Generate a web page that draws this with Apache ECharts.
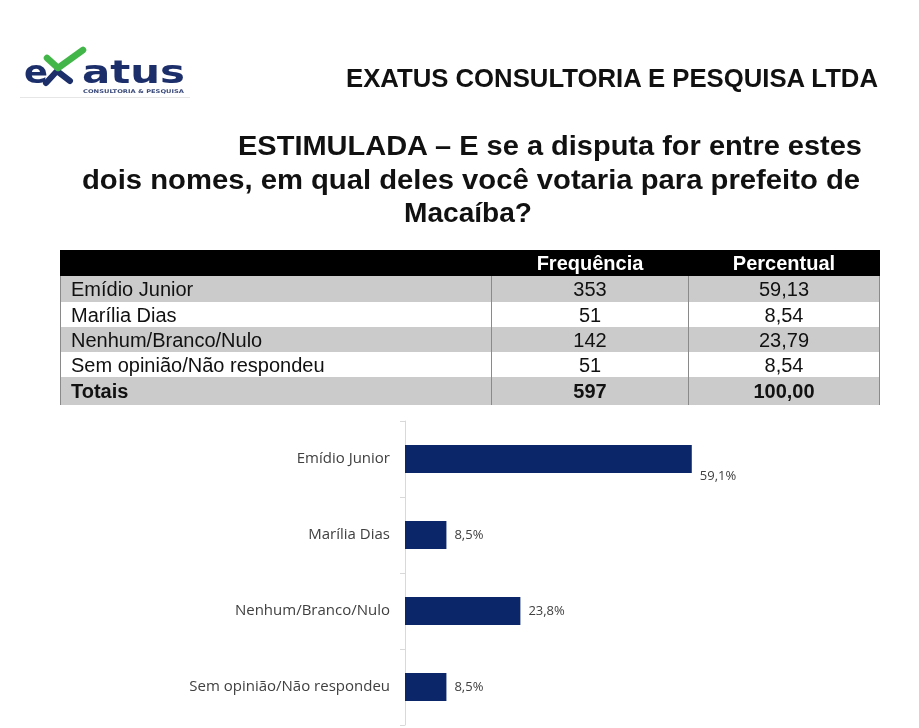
<!DOCTYPE html>
<html>
<head>
<meta charset="utf-8">
<script src="https://cdn.jsdelivr.net/npm/echarts@6/dist/echarts.min.js"></script>
<style>
  body { margin: 0; background: #fff; }
  #page { position: relative; width: 919px; height: 728px; overflow: hidden; background: #fff; }
  #main { position: absolute; left: 0; top: 0; width: 919px; height: 728px; }
  #top { position: absolute; left: 0; top: 0; }
  #tabela { position: absolute; left: 60px; top: 250px; border-collapse: collapse; table-layout: fixed;
            font-family: "Liberation Sans", Arial, sans-serif; font-size: 20px; color: #111; }
  #tabela td { padding: 0; border-left: 1px solid #8a8a8a; border-right: 1px solid #8a8a8a; line-height: 1; }
  #tabela td.c0 { padding-left: 10px; text-align: left; }
  #tabela td.c1, #tabela td.c2 { text-align: center; }
  #tabela tr.cinza td { background: #cbcbcb; }
  #tabela tr.branco td { background: #fff; }
  #tabela tr.cab td { background: #000; color: #fff; font-weight: bold; border-color: #000; }
  #tabela tr.tot td { font-weight: bold; }
</style>
</head>
<body>
<div id="page">
  <div id="main"></div>
  <svg id="top" width="919" height="240">
    <!-- logo -->
    <text x="24" y="83" font-family="DejaVu Sans" font-weight="bold" font-size="32" fill="#1d2f6b" textLength="24" lengthAdjust="spacingAndGlyphs">e</text>
    <path d="M46,83 L57,71 L70,81" stroke="#1d2f6b" stroke-width="6" fill="none" stroke-linecap="round" stroke-linejoin="round"/>
    <path d="M47,58 L58,68 L83,50" stroke="#43b649" stroke-width="6.5" fill="none" stroke-linecap="round" stroke-linejoin="round"/>
    <text x="82" y="83" font-family="DejaVu Sans" font-weight="bold" font-size="32" fill="#1d2f6b" textLength="103" lengthAdjust="spacingAndGlyphs">atus</text>
    <text x="83" y="93" font-family="DejaVu Sans" font-weight="bold" font-size="5" fill="#3a4a7a" textLength="101" lengthAdjust="spacingAndGlyphs">CONSULTORIA &amp; PESQUISA</text>
    <line x1="20" y1="97.5" x2="190" y2="97.5" stroke="#e6e6e6" stroke-width="1"/>
    <!-- cabeçalho -->
    <text x="346" y="87" font-family="Liberation Sans, Arial" font-weight="bold" font-size="26" fill="#111" textLength="532" lengthAdjust="spacingAndGlyphs">EXATUS CONSULTORIA E PESQUISA LTDA</text>
    <!-- título -->
    <text id="t1" x="238" y="155" font-family="Liberation Sans Narrow, Liberation Sans, Arial" font-weight="bold" font-size="28" fill="#111" textLength="624" lengthAdjust="spacingAndGlyphs"></text>
    <text id="t2" x="82" y="189" font-family="Liberation Sans Narrow, Liberation Sans, Arial" font-weight="bold" font-size="28" fill="#111" textLength="778" lengthAdjust="spacingAndGlyphs"></text>
    <text id="t3" x="404" y="222" font-family="Liberation Sans Narrow, Liberation Sans, Arial" font-weight="bold" font-size="28" fill="#111" textLength="128" lengthAdjust="spacingAndGlyphs"></text>
  </svg>
  <table id="tabela"></table>
</div>
<script type="text/javascript">
    // dados da pesquisa
    var titulo = ['ESTIMULADA – E se a disputa for entre estes',
                  'dois nomes, em qual deles você votaria para prefeito de',
                  'Macaíba?'];
    var colunas = ['', 'Frequência', 'Percentual'];
    var categorias = ['Emídio Junior', 'Marília Dias', 'Nenhum/Branco/Nulo', 'Sem opinião/Não respondeu'];
    var frequencia = [353, 51, 142, 51];
    var percentual = [59.13, 8.54, 23.79, 8.54];
    var totalRotulo = 'Totais';
    var totalFreq = 597;
    var totalPerc = 100.00;

    document.getElementById('t1').textContent = titulo[0];
    document.getElementById('t2').textContent = titulo[1];
    document.getElementById('t3').textContent = titulo[2];

    function virgula(v, casas) {
        return v.toFixed(casas).replace('.', ',');
    }

    // tabela
    var alturas = [26, 26, 25, 25, 25, 28];
    var larguras = [431, 197, 191];
    var html = '<colgroup>';
    for (var c = 0; c < 3; c++) {
        html += '<col style="width:' + larguras[c] + 'px">';
    }
    html += '</colgroup><tr class="cab" style="height:' + alturas[0] + 'px">';
    for (var c = 0; c < 3; c++) {
        html += '<td class="c' + c + '">' + colunas[c] + '</td>';
    }
    html += '</tr>';
    for (var i = 0; i < categorias.length; i++) {
        html += '<tr class="' + (i % 2 == 0 ? 'cinza' : 'branco') + '" style="height:' + alturas[i + 1] + 'px">' +
            '<td class="c0">' + categorias[i] + '</td>' +
            '<td class="c1">' + frequencia[i] + '</td>' +
            '<td class="c2">' + virgula(percentual[i], 2) + '</td></tr>';
    }
    html += '<tr class="cinza tot" style="height:' + alturas[5] + 'px">' +
        '<td class="c0">' + totalRotulo + '</td>' +
        '<td class="c1">' + totalFreq + '</td>' +
        '<td class="c2">' + virgula(totalPerc, 2) + '</td></tr>';
    var tab = document.getElementById('tabela');
    tab.style.width = (larguras[0] + larguras[1] + larguras[2]) + 'px';
    tab.innerHTML = html;

    // gráfico de barras
    var myChart = echarts.init(document.getElementById('main'));
    var dadosBarras = percentual.map(function (v, i) {
        if (i == 0) {
            return { value: v, label: { offset: [0, 17] } };
        }
        return v;
    });
    var option = {
        animation: false,
        grid: { left: 405, top: 421, width: 485, height: 304, containLabel: false },
        xAxis: { type: 'value', min: 0, max: 100, show: false },
        yAxis: {
            type: 'category',
            inverse: true,
            data: categorias,
            axisLine: { show: true, lineStyle: { color: '#d9d9d9', width: 1 } },
            axisTick: { show: true, length: 5, lineStyle: { color: '#d9d9d9' } },
            axisLabel: { color: '#404040', fontSize: 15, fontFamily: 'Open Sans', margin: 15 }
        },
        series: [{
            type: 'bar',
            data: dadosBarras,
            barWidth: 28,
            itemStyle: { color: '#0b2669' },
            label: {
                show: true,
                position: 'right',
                distance: 8,
                color: '#404040',
                fontSize: 13,
                fontFamily: 'Open Sans',
                formatter: function (p) { return virgula(p.value, 1) + '%'; }
            }
        }]
    };
    myChart.setOption(option);
</script>
</body>
</html>
